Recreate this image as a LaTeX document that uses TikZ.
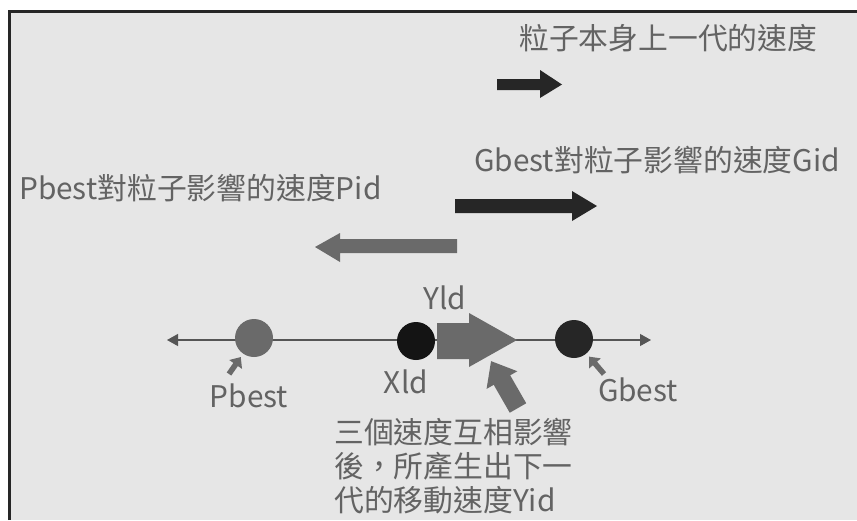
\documentclass[tikz,border=0pt]{standalone}
\usepackage{fontspec}
\setmainfont{Noto Sans CJK TC}
\usetikzlibrary{arrows.meta}
\definecolor{bg}{HTML}{E6E6E6}
\definecolor{txt}{HTML}{636363}
\definecolor{darkarrow}{HTML}{262626}
\definecolor{grayarrow}{HTML}{6A6A6A}
\definecolor{axiscol}{HTML}{555555}
\tikzset{
  lbl/.style={text=txt, font=\fontsize{29.8}{34}\selectfont, inner sep=0pt},
  particle/.style={circle, minimum size=38pt, inner sep=0pt},
  pointer/.style={grayarrow, line width=5.5pt, -{Triangle[length=9pt,width=15pt]}, shorten >=4pt}
}
\begin{document}
\begin{tikzpicture}[x=1pt,y=-1pt]
\useasboundingbox (0,0) rectangle (857,520);
\fill[white] (0,0) rectangle (857,520);
\fill[bg] (9,11) rectangle (857,520);
\draw[darkarrow, line width=3pt] (9,520) -- (9,11) -- (857,11);

% titles
\node[lbl, anchor=west] (t1) at (519,38) {粒子本身上一代的速度};
\node[lbl, anchor=west] (t2) at (474,160) {Gbest對粒子影響的速度Gid};
\node[lbl, anchor=west] (t3) at (19,188) {Pbest對粒子影響的速度Pid};

% velocity arrows
\fill[darkarrow] (497,79) -- (540,79) -- (540,70) -- (562,84.5) -- (540,98) -- (540,90) -- (497,90) -- cycle;
\fill[darkarrow] (455,199) -- (572,199) -- (572,191) -- (597,206) -- (572,221) -- (572,213) -- (455,213) -- cycle;
\fill[grayarrow] (457,239) -- (340,239) -- (340,233) -- (315,247) -- (340,262) -- (340,253) -- (457,253) -- cycle;

% axis
\coordinate (L) at (167,340);
\coordinate (R) at (651,340);
\draw[axiscol, line width=1.2pt, {Triangle[length=11pt,width=12pt]}-{Triangle[length=11pt,width=12pt]}] (L) -- (R);

\node[particle, fill=grayarrow] (pbest) at (254,338) {};
\node[particle, fill=black!92] (xid) at (416,341) {};
\node[particle, fill=darkarrow] (gbest) at (574,339) {};

% Yid arrow
\fill[grayarrow] (437,323) -- (469,323) -- (469,313) -- (517,340) -- (469,367) -- (469,359) -- (437,359) -- cycle;

% labels
\node[lbl, anchor=center] (ylbl) at (445,298) {Yld};
\node[lbl, anchor=center] (xlbl) at (406,382) {Xld};
\node[lbl, anchor=center] (plbl) at (249,396) {Pbest};
\node[lbl, anchor=center] (glbl) at (638,390) {Gbest};

% pointers
\coordinate (pt) at (229,374);
\draw[pointer] (pt) -- (pbest);
\coordinate (gt) at (604,374);
\draw[pointer] (gt) -- (gbest);
\coordinate (yt) at (518,408);
\coordinate (yh) at (491,361);
\draw[grayarrow, line width=19pt, -{Triangle[length=22pt,width=34pt]}] (yt) -- (yh);

% bottom text
\node[lbl, anchor=north west, align=left] (note) at (334,418) {三個速度互相影響\\後，所產生出下一\\代的移動速度Yid};
\end{tikzpicture}
\end{document}
